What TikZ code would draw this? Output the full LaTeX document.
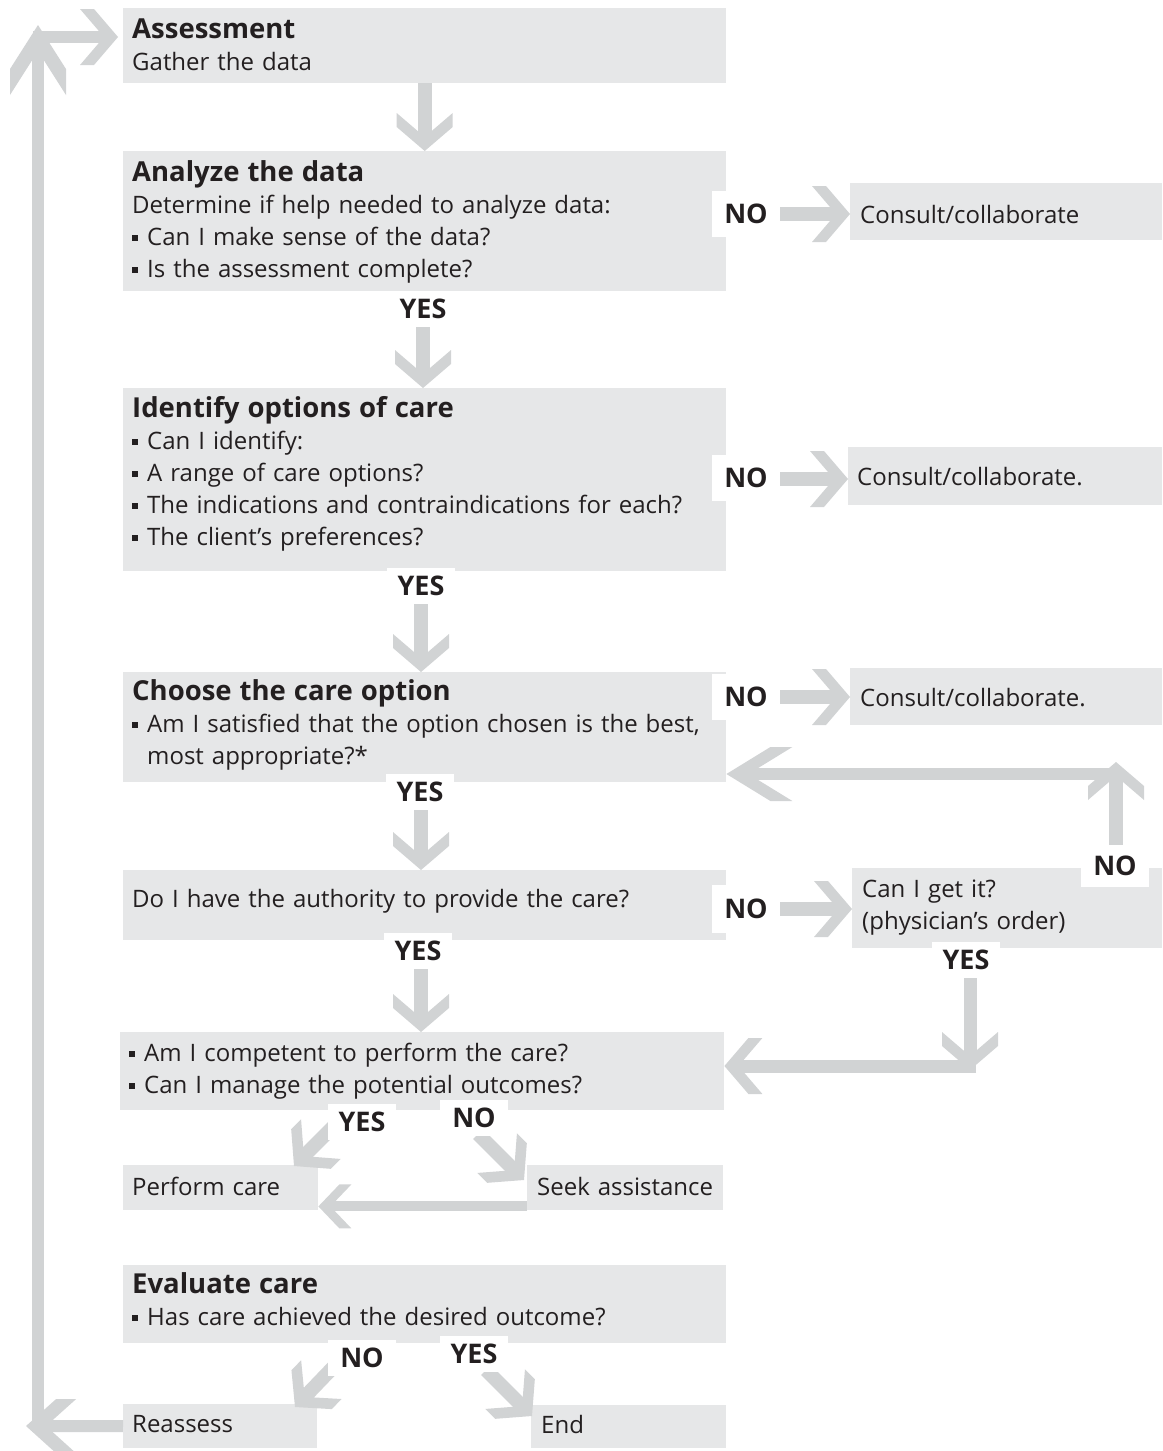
\documentclass[tikz,border=0pt]{standalone}
\usepackage{fontspec}
\setmainfont{Open Sans}
\usetikzlibrary{calc}
\definecolor{boxg}{RGB}{230,231,232}
\definecolor{arrg}{RGB}{209,211,212}
\definecolor{ink}{RGB}{35,31,32}
% chevron arrow tip: name, L, W, D, L+D, D-2
\newcommand\mkchev[6]{%
\pgfdeclarearrow{
  name=#1,
  setup code={
    \pgfarrowssettipend{0pt}
    \pgfarrowssetbackend{-#5pt}
    \pgfarrowssetvisualbackend{-#5pt}
    \pgfarrowssetlineend{-#6pt}
    \pgfarrowshullpoint{0pt}{0pt}
    \pgfarrowshullpoint{-#5pt}{#3pt}
    \pgfarrowshullpoint{-#5pt}{-#3pt}
  },
  drawing code={
    \pgfsetfillcolor{arrg}
    \pgfpathmoveto{\pgfqpoint{0pt}{0pt}}
    \pgfpathlineto{\pgfqpoint{-#2pt}{#3pt}}
    \pgfpathlineto{\pgfqpoint{-#5pt}{#3pt}}
    \pgfpathlineto{\pgfqpoint{-#4pt}{0pt}}
    \pgfpathlineto{\pgfqpoint{-#5pt}{-#3pt}}
    \pgfpathlineto{\pgfqpoint{-#2pt}{-#3pt}}
    \pgfpathclose
    \pgfusepathqfill
  },
  defaults={}
}}
\mkchev{Chev}{24}{28}{14}{38}{12}
\mkchev{ChevS}{21}{22}{12}{33}{10}
\mkchev{ChevL}{44}{27}{22}{66}{20}
\mkchev{ChevM}{30}{27}{20}{50}{18}
\mkchev{ChevU}{44}{28}{26}{70}{24}
\newcommand\sqb{\makebox[15pt][l]{\rule[4pt]{6pt}{6pt}}}
\newcommand\hd[1]{{\fontsize{27.5}{32}\selectfont\bfseries #1}}
\tikzset{
  box/.style={fill=boxg, inner sep=0pt, anchor=north west},
  txt/.style={text=ink, inner sep=0pt, anchor=base west, align=left,
    text width=600pt, font=\fontsize{24}{32}\selectfont},
  lab/.style={fill=white, text=ink, inner sep=0pt, minimum width=68pt,
    minimum height=#1, font=\fontsize{27}{32}\selectfont\bfseries},
  lab/.default=36pt,
  garrow/.style={draw=arrg, line width=14pt, -Chev},
  larrow/.style={draw=arrg, line width=12pt},
}
\begin{document}
\begin{tikzpicture}[x=1pt,y=-1pt]
\useasboundingbox (0,0) rectangle (1162,1451);
% boxes
\node[box, minimum width=603pt, minimum height=75pt] (assess) at (123,8) {};
\node[box, minimum width=603pt, minimum height=140pt] (analyze) at (123,151) {};
\node[box, minimum width=312pt, minimum height=57pt] (consA) at (850,183) {};
\node[box, minimum width=603pt, minimum height=183pt] (identify) at (123,388) {};
\node[box, minimum width=314pt, minimum height=58pt] (consB) at (848,447) {};
\node[box, minimum width=603pt, minimum height=110pt] (choose) at (123,672) {};
\node[box, minimum width=312pt, minimum height=57pt] (consC) at (850,668) {};
\node[box, minimum width=603pt, minimum height=70pt] (auth) at (123,870) {};
\node[box, minimum width=310pt, minimum height=80pt] (getit) at (852,868) {};
\node[box, minimum width=604pt, minimum height=78pt] (comp) at (120,1032) {};
\node[box, minimum width=195pt, minimum height=45pt] (perform) at (123,1165) {};
\node[box, minimum width=196pt, minimum height=45pt] (seek) at (527,1165) {};
\node[box, minimum width=603pt, minimum height=78pt] (eval) at (123,1265) {};
\node[box, minimum width=194pt, minimum height=44pt] (reass) at (123,1404) {};
\node[box, minimum width=195pt, minimum height=43pt] (endb) at (531,1405) {};
% texts
\node[txt] (tAssess) at (132,38) {\hd{Assessment}\\Gather the data};
\node[txt] (tAnalyze) at (132,181) {\hd{Analyze the data}\\Determine if help needed to analyze data:\\\sqb Can I make sense of the data?\\\sqb Is the assessment complete?};
\node[txt, text width=295pt] (tConsA) at (860,223) {Consult/collaborate};
\node[txt] (tIdentify) at (132,417) {\hd{Identify options of care}\\\sqb Can I identify:\\\sqb A range of care options?\\\sqb The indications and contraindications for each?\\\sqb The client’s preferences?};
\node[txt, text width=295pt] (tConsB) at (857,485) {Consult/collaborate.};
\node[txt] (tChoose) at (132,700) {\hd{Choose the care option}\\\sqb Am I satisfied that the option chosen is the best,\\\hspace*{15pt}most appropriate?*};
\node[txt, text width=295pt] (tConsC) at (860,706) {Consult/collaborate.};
\node[txt] (tAuth) at (132,907) {Do I have the authority to provide the care?};
\node[txt, text width=295pt] (tGetit) at (862,897) {Can I get it?\\(physician’s order)};
\node[txt] (tComp) at (129,1061) {\sqb Am I competent to perform the care?\\\sqb Can I manage the potential outcomes?};
\node[txt, text width=185pt] (tPerform) at (132,1195) {Perform care};
\node[txt, text width=185pt] (tSeek) at (537,1195) {Seek assistance};
\node[txt] (tEval) at (132,1293) {\hd{Evaluate care}\\\sqb Has care achieved the desired outcome?};
\node[txt, text width=185pt] (tReass) at (132,1432) {Reassess};
\node[txt, text width=185pt] (tEnd) at (541,1433) {End};
% free-end coordinates
\coordinate (pyA) at (423,309);
\coordinate (pyB) at (421,586);
\coordinate (pyC) at (420,792);
\coordinate (pyD) at (418,951);
\coordinate (pyE) at (966,960);
\coordinate (pnE) at (1115,866);
\coordinate (sA) at (423,325);
\coordinate (sB) at (421,602);
\coordinate (sC) at (421,808);
\coordinate (sD) at (421,967);
\coordinate (sE) at (970,976);
\coordinate (sN) at (1116,846);
\coordinate (retTop) at (1116,762);
\coordinate (retC) at (1122,774);
\coordinate (getDown) at (970,1070);
\coordinate (getC) at (976,1066);
\coordinate (yF1) at (344,1116);
\coordinate (yF2) at (294,1166);
\coordinate (nF1) at (478,1134);
\coordinate (nF2) at (524,1180);
\coordinate (nG1) at (344,1356);
\coordinate (nG2) at (295,1407);
\coordinate (yG1) at (486,1370);
\coordinate (yG2) at (532,1416);
\coordinate (lpB) at (26,1426);
\coordinate (lpV0) at (38,1432);
\coordinate (lpT) at (38,25);
\coordinate (lpH0) at (33,37);
\coordinate (nAe) at (779,214);
\coordinate (nBe) at (779,479);
\coordinate (nCe) at (779,697);
\coordinate (nDe) at (779,909);
% arrows
\draw[garrow] (assess.south) -- (analyze.north);
\draw[garrow] (sA) -- (sA |- identify.north);
\draw[garrow] (sB) -- (sB |- choose.north);
\draw[garrow] (sC) -- (sC |- auth.north);
\draw[garrow] (sD) -- (sD |- comp.north);
\draw[garrow] (nAe) -- (nAe -| consA.west);
\draw[garrow] (nBe) -- (nBe -| consB.west);
\draw[garrow] (nCe) -- (nCe -| consC.west);
\draw[garrow] (nDe) -- (nDe -| getit.west);
\draw[garrow] (sN) -- (retTop);
\draw[garrow, -ChevL, line width=12pt] (retC) -- (retC -| choose.east);
\draw[garrow, line width=13pt] (sE) -- (getDown);
\draw[garrow, line width=13pt] (getC) -- (getC -| comp.east);
\draw[garrow] (yF1) -- (yF2);
\draw[garrow] (nF1) -- (nF2);
\draw[garrow, -ChevS, line width=10pt] ($(seek.south west)+(0,-4)$) -- ($(perform.south east)+(0,-4)$);
\draw[garrow] (nG1) -- (nG2);
\draw[garrow] (yG1) -- (yG2);
\draw[larrow, -ChevM] (reass.west) -- (lpB);
\draw[larrow, -ChevU] (lpV0) -- (lpT);
\draw[larrow, -Chev] (lpH0) -- ($(lpH0 -| assess.west)+(-5,0)$);
% labels
\node[lab=46pt] (noA) at (746,214) {NO};
\node[lab] (yesA) at (pyA) {YES};
\node[lab=46pt] (noB) at (746,478) {NO};
\node[lab] (yesB) at (pyB) {YES};
\node[lab=46pt] (noC) at (746,697) {NO};
\node[lab] (yesC) at (pyC) {YES};
\node[lab=48pt] (noD) at (746,909) {NO};
\node[lab] (yesD) at (pyD) {YES};
\node[lab=42pt] (noE) at (pnE) {NO};
\node[lab] (yesE) at (pyE) {YES};
\node[lab] (yesF) at (362,1122) {YES};
\node[lab] (noF) at (474,1118) {NO};
\node[lab] (noG) at (362,1358) {NO};
\node[lab] (yesG) at (474,1354) {YES};
\end{tikzpicture}
\end{document}
